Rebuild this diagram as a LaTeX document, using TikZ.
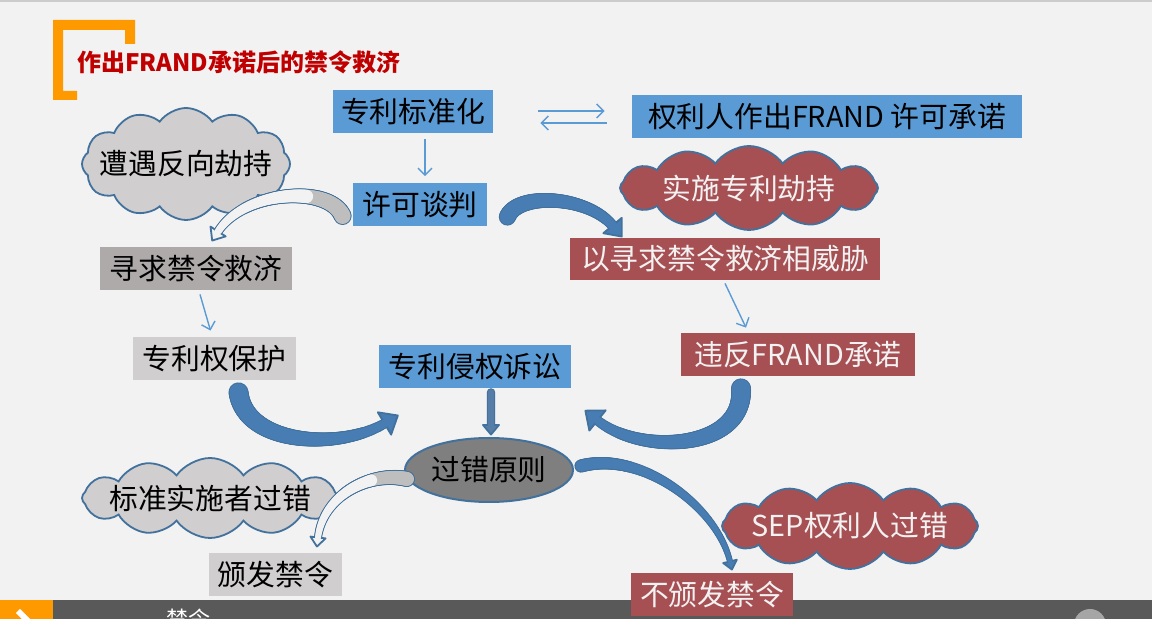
\documentclass[tikz,border=0pt]{standalone}
\usepackage{fontspec}
\usepackage{xcolor}
\usepackage{tikz}
\usetikzlibrary{arrows.meta, positioning, calc, shapes.symbols, shapes.geometric, decorations.markings}
\setmainfont{Noto Sans CJK SC}
\definecolor{pagebg}{RGB}{242,242,242}
\definecolor{boxblue}{RGB}{91,155,213}
\definecolor{boxred}{RGB}{167,80,84}
\definecolor{boxgray}{RGB}{208,206,206}
\definecolor{boxdark}{RGB}{174,170,170}
\definecolor{undergray}{RGB}{190,190,190}
\definecolor{edgeblue}{RGB}{65,113,156}
\definecolor{arrowblue}{RGB}{72,125,180}
\definecolor{titlered}{RGB}{192,0,0}
\definecolor{accent}{RGB}{255,153,0}
\definecolor{barbg}{RGB}{89,89,89}
\definecolor{ovalgray}{RGB}{127,127,127}
\definecolor{lighttext}{RGB}{242,242,242}
% one stamp of a tapered band
\newcommand{\bandstamp}[3]{%
  \pgfmathsetmacro\bandpos{\pgfkeysvalueof{/pgf/decoration/mark info/distance from start}/\pgfdecoratedpathlength}%
  \pgfmathsetmacro\bandr{\bandtail-(\bandtail-\bandtip)*\bandpos+#1}%
  \pgfmathtruncatemacro\bandflag{\bandpos<\bandunder}%
  \ifnum\bandflag=1 \fill[#3] (0pt,0pt) circle[radius=\bandr pt];\else\fill[#2] (0pt,0pt) circle[radius=\bandr pt];\fi}
% the head of a band
\newcommand{\bandtriangle}[2]{%
  \pgfmathsetmacro\bandlen{1.2*\bandhead}%
  \filldraw[fill=#1, draw=#2, line width=0.9pt, line join=round]
    (0pt,\bandhead pt) -- (\bandlen pt,0pt) -- (0pt,-\bandhead pt) -- cycle;}
\tikzset{
  band tail/.store in=\bandtail, band tip/.store in=\bandtip, band head/.store in=\bandhead,
  band under/.store in=\bandunder, band under color/.store in=\bandundercolor,
  band tail=4, band tip=2, band head=6, band under=0, band under color=undergray,
  band/.style 2 args={
    postaction={decorate, decoration={markings, mark=between positions 0 and 1 step 0.5pt with {\bandstamp{0.5}{#2}{#2}}}},
    postaction={decorate, decoration={markings, mark=at position 0.999 with {\bandtriangle{#1}{#2}}}},
    postaction={decorate, decoration={markings, mark=between positions 0 and 1 step 0.5pt with {\bandstamp{0}{#1}{\bandundercolor}}}}},
}

\begin{document}
\begin{tikzpicture}[x=0.5pt, y=-0.5pt,
  every node/.style={font=\fontsize{14.4pt}{16pt}\selectfont, inner sep=0pt},
  bluebox/.style={fill=boxblue, minimum height=21.5pt},
  redbox/.style={fill=boxred, text=lighttext, minimum height=21.5pt},
  graybox/.style={fill=boxgray, minimum height=21.5pt},
  darkbox/.style={fill=boxdark, minimum height=21.5pt},
  puff/.style={cloud, cloud puffs=12, cloud puff arc=110, cloud ignores aspect, inner xsep=-30pt, inner ysep=-6pt, draw=edgeblue, line width=0.9pt},
  linkarrow/.style={draw=boxblue, line width=0.7pt, -{Straight Barb[length=3.5pt, width=7pt]}},
]
  \clip (0,0) rectangle (1152,619);
  \fill[pagebg] (0,0) rectangle (1152,619);
  \fill[gray!40] (0,0) rectangle (1152,2);

  % title and its bracket
  \fill[accent] (53,20) -- (135,20) -- (135,44) -- (125,44) -- (125,30) -- (63,30)
    -- (63,91) -- (77,91) -- (77,100) -- (53,100) -- cycle;
  \node[anchor=west, text=titlered, font=\fontsize{12pt}{14pt}\selectfont\bfseries] (title) at (77,62) {作出FRAND承诺后的禁令救济};

  % footer bar
  \fill[barbg] (0,600) rectangle (1152,619);
  \fill[accent] (0,600) rectangle (53,619);
  \draw[white, line width=3pt] (18,611) -- (28,621) -- (18,631);
  \fill[gray!70] (1090,625) circle[radius=8pt];
  \node[anchor=north, text=white, font=\fontsize{11pt}{13pt}\selectfont] (foot) at (188,609) {禁令};

  % nodes
  \node[bluebox, minimum width=80pt] (std) at (413,111.5) {专利标准化};
  \node[bluebox, minimum width=195pt] (frand) at (827,116.5) {权利人作出FRAND 许可承诺};
  \node[bluebox, minimum width=67pt] (nego) at (420,205) {许可谈判};
  \node[puff, fill=boxgray, minimum width=104pt, minimum height=56pt] (reverse) at (186,164) {遭遇反向劫持};
  \node[puff, fill=boxred, text=lighttext, minimum width=129pt, minimum height=42pt] (holdup) at (749,188) {实施专利劫持};
  \node[darkbox, minimum width=96pt] (seek) at (196,268.5) {寻求禁令救济};
  \node[redbox, minimum width=155pt, minimum height=21pt] (threat) at (725,259) {以寻求禁令救济相威胁};
  \node[graybox, minimum width=81.5pt] (protect) at (214.5,358.5) {专利权保护};
  \node[redbox, minimum width=117pt] (breach) at (798,354.5) {违反FRAND承诺};
  \node[bluebox, minimum width=96pt] (suit) at (475,366.5) {专利侵权诉讼};
  \node[ellipse, fill=ovalgray, draw=edgeblue, line width=1pt, minimum width=84pt, minimum height=32pt] (fault) at (489,470) {过错原则};
  \node[puff, fill=boxgray, minimum width=128pt, minimum height=40pt] (implfault) at (210,498) {标准实施者过错};
  \node[puff, fill=boxred, text=lighttext, minimum width=128pt, minimum height=43pt] (sepfault) at (850,526) {SEP权利人过错};
  \node[graybox, minimum width=66.5pt] (grant) at (275.5,574.5) {颁发禁令};
  \node[redbox, minimum width=81pt] (nogrant) at (712,594.5) {不颁发禁令};

  % thin connectors
  \draw[linkarrow] ($(std.south)+(12,6)$) -- ($(nego.north)+(5,-7)$);
  \draw[linkarrow] ($(std.east)+(45,-0.5)$) -- ($(frand.west)+(-27,-5.5)$);
  \draw[linkarrow] ($(frand.west)+(-25,6.5)$) -- ($(std.east)+(47,11.5)$);
  \draw[linkarrow] ($(seek.south)+(4,4)$) -- ($(protect.north)+(-4,-6)$);
  \draw[linkarrow] ($(threat.south)+(0,3)$) -- ($(breach.north)+(-52,-5)$);

  % curved block arrows
  \path[band={arrowblue}{edgeblue}, band tail=3.8, band tip=2.2, band head=6]
    ($(nego.east)+(20,12)$) .. controls +(10,-25) and +(-25,-30) .. ($(threat.north west)+(43,-12)$);
  \path[band={pagebg}{edgeblue}, band tail=4, band tip=1.8, band head=4.5, band under=0.3]
    ($(nego.west)+(-10,11)$) .. controls +(-13,-31) and +(27,-42) .. ($(seek.north)+(22,-15)$);
  \path[band={arrowblue}{edgeblue}, band tail=4.5, band tip=2, band head=6.5]
    ($(protect.south)+(24,12)$) .. controls +(7,53) and +(-45,27) .. ($(suit.south west)+(6,35)$);
  \path[band={arrowblue}{edgeblue}, band tail=4.5, band tip=2, band head=6.5]
    ($(breach.south)+(-57,12)$) .. controls +(4,62) and +(43,35) .. ($(suit.south east)+(26,32)$);
  \path[band={arrowblue!75!ovalgray}{edgeblue}, band tail=1.6, band tip=1.6, band head=4]
    ($(suit.south)+(16,4)$) -- ($(fault.north)+(2,-12)$);
  \path[band={pagebg}{edgeblue}, band tail=3.5, band tip=1.5, band head=3.8, band under=0.3]
    ($(fault.west)+(3,9)$) .. controls +(-38,-8) and +(5,-42) .. ($(grant.north)+(42.5,-15)$);
  \path[band={arrowblue}{edgeblue}, band tail=2.8, band tip=1, band head=3.5]
    ($(fault.east)+(7,-4)$) .. controls +(60,-16) and +(-13,-55) .. ($(nogrant.north)+(18,-11)$);
\end{tikzpicture}
\end{document}
